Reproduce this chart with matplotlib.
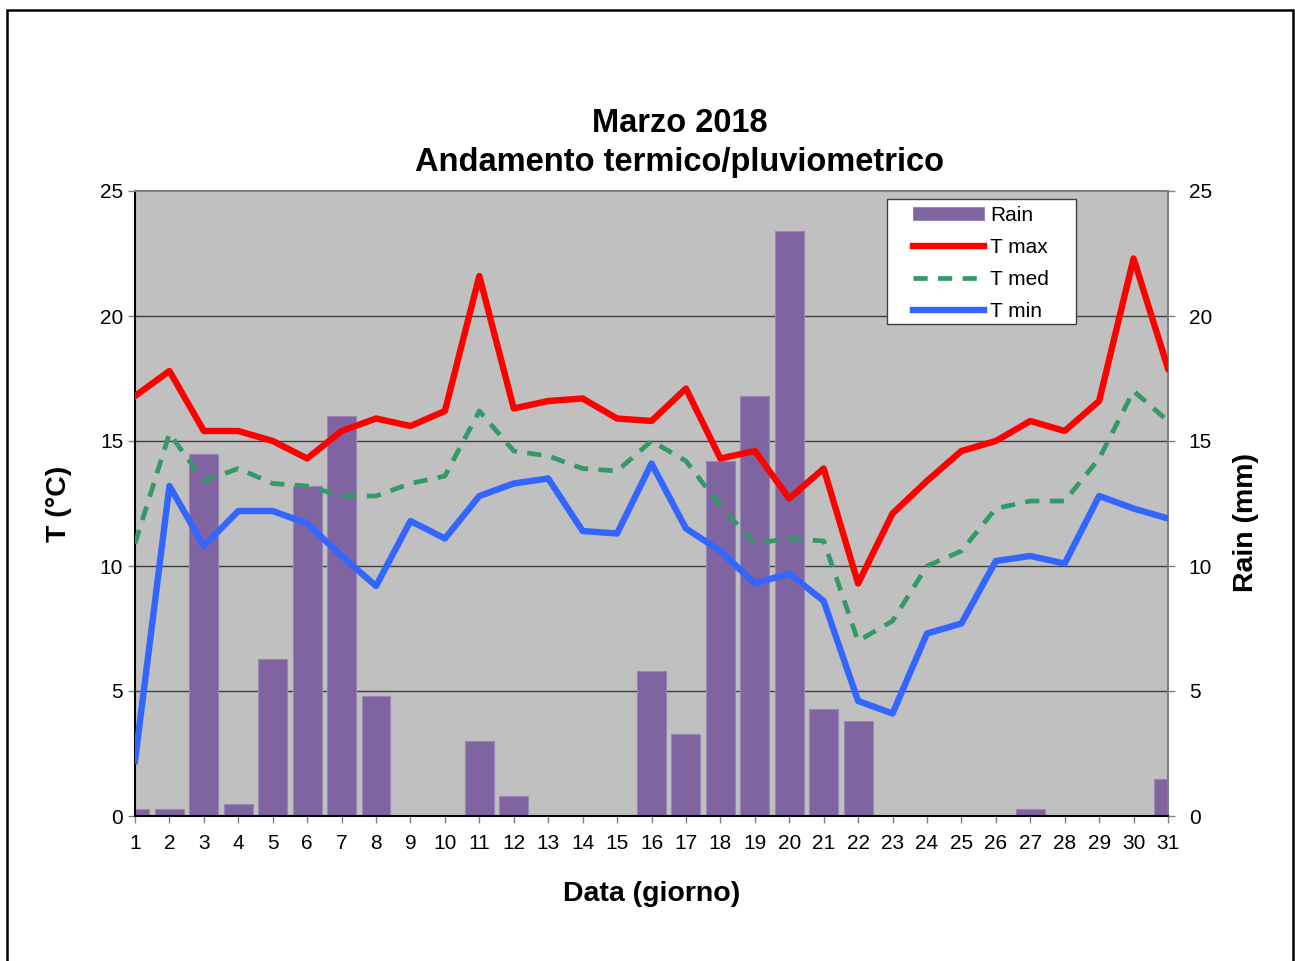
import matplotlib.pyplot as plt
import numpy as np
from matplotlib.patches import Rectangle

plt.rcParams['font.family'] = ['Liberation Sans', 'DejaVu Sans']

giorni = np.arange(1, 32)
pioggia = [0.3, 0.3, 14.5, 0.5, 6.3, 13.2, 16.0, 4.8, 0, 0, 3.0, 0.8, 0, 0, 0, 5.8,
           3.3, 14.2, 16.8, 23.4, 4.3, 3.8, 0, 0, 0, 0, 0.3, 0, 0, 0, 1.5]
t_max = [16.8, 17.8, 15.4, 15.4, 15.0, 14.3, 15.4, 15.9, 15.6, 16.2, 21.6, 16.3, 16.6, 16.7,
         15.9, 15.8, 17.1, 14.3, 14.6, 12.7, 13.9, 9.3, 12.1, 13.4, 14.6, 15.0, 15.8, 15.4,
         16.6, 22.3, 17.9]
t_med = [10.9, 15.3, 13.4, 13.9, 13.3, 13.2, 12.8, 12.8, 13.3, 13.6, 16.2, 14.6, 14.4, 13.9,
         13.8, 15.0, 14.2, 12.4, 10.9, 11.1, 11.0, 7.0, 7.8, 10.0, 10.6, 12.3, 12.6, 12.6,
         14.3, 17.0, 15.8]
t_min = [2.2, 13.2, 10.8, 12.2, 12.2, 11.7, 10.4, 9.2, 11.8, 11.1, 12.8, 13.3, 13.5, 11.4,
         11.3, 14.1, 11.5, 10.6, 9.3, 9.7, 8.6, 4.6, 4.1, 7.3, 7.7, 10.2, 10.4, 10.1, 12.8,
         12.3, 11.9]

fig = plt.figure(figsize=(12.95, 9.61), dpi=100)
ax = fig.add_axes([135/1295, 1-816/961, 1033/1295, 625/961])
ax.set_facecolor('#C0C0C0')

# cornice esterna
fig.patches.append(Rectangle((7/1295, -0.01), 1286/1295, 1-10/961+0.01, transform=fig.transFigure,
                             fill=False, edgecolor='black', linewidth=1.8))

barre = ax.bar(giorni, pioggia, width=0.84, color='#8064A2', edgecolor='#9A88B4', linewidth=0.8,
               label='Rain', zorder=2)
l1, = ax.plot(giorni, t_max, color='#FF0000', lw=4.6, label='T max', zorder=3)
l2, = ax.plot(giorni, t_med, color='#339966', lw=3.4, ls=(0, (3, 2.2)), label='T med', zorder=3)
l3, = ax.plot(giorni, t_min, color='#3366FF', lw=4.6, label='T min', zorder=3)

ax.set_xlim(1, 31)
ax.set_ylim(0, 25)
ax.set_xticks(giorni)
ax.set_yticks(range(0, 26, 5))
for y in range(5, 25, 5):
    ax.axhline(y, color='#404040', lw=1.0, zorder=1)
ax.tick_params(axis='both', labelsize=15, direction='out', length=5, color='#808080', width=1)
ax.tick_params(axis='x', pad=8)
for s in ['top', 'right']:
    ax.spines[s].set_color('#808080')
    ax.spines[s].set_linewidth(1.5)
for s in ['left', 'bottom']:
    ax.spines[s].set_color('black')
    ax.spines[s].set_linewidth(1.5)

ax2 = ax.twinx()
ax2.set_ylim(0, 25)
ax2.set_yticks(range(0, 26, 5))
ax2.tick_params(axis='y', labelsize=15, direction='out', length=5, color='#808080', width=1, pad=10)
for s in ax2.spines.values():
    s.set_visible(False)

ax.set_ylabel('T (°C)', fontsize=20.5, fontweight='bold', labelpad=20)
ax2.set_ylabel('Rain (mm)', fontsize=20.5, fontweight='bold')
ax2.yaxis.set_label_coords(1.063, 0.47)
ax.set_xlabel('Data (giorno)', fontsize=20.5, fontweight='bold', labelpad=20)

fig.text(680/1295, 1-124/961, 'Marzo 2018', ha='center', va='center', fontsize=23.5, fontweight='bold')
fig.text(680/1295, 1-162/961, 'Andamento termico/pluviometrico', ha='center', va='center',
         fontsize=23.5, fontweight='bold')

# riquadro legenda (più largo come in Excel)
ax.add_patch(Rectangle((0.728, 0.787), 0.183, 0.2, transform=ax.transAxes, facecolor='white',
                       edgecolor='#404040', lw=1, zorder=4))
leg = ax.legend([barre, l1, l2, l3], ['Rain', 'T max', 'T med', 'T min'],
                loc='upper left', bbox_to_anchor=((913-135)/1033, (816-206)/625), fontsize=15,
                frameon=False, handlelength=3.4, borderpad=0, labelspacing=0.62,
                handletextpad=0.3, borderaxespad=0, handleheight=0.6)
leg.set_zorder(5)

fig.savefig('out.png', dpi=100)
